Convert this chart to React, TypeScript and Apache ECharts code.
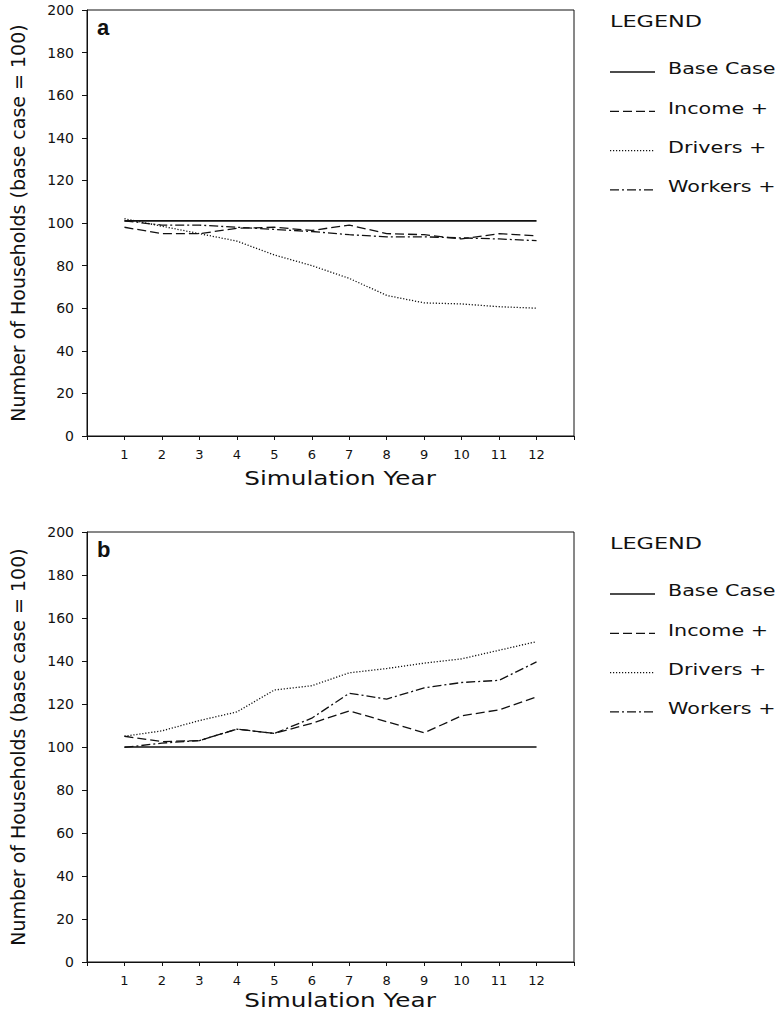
import React, { useEffect, useRef } from "react";
import * as echarts from "echarts";

const years = [1, 2, 3, 4, 5, 6, 7, 8, 9, 10, 11, 12];
const seriesNames = ["Base Case", "Income +", "Drivers +", "Workers +"];

const aBase = [101, 101, 101, 101, 101, 101, 101, 101, 101, 101, 101, 101];
const aIncome = [98, 95, 95, 97.5, 98, 96.5, 99, 95, 94.5, 92.5, 95, 94];
const aDrivers = [102, 98.5, 95, 91.5, 85, 80, 74, 66, 62.5, 62, 60.7, 60];
const aWorkers = [101, 99, 99, 98, 97, 96, 94.5, 93.5, 93.5, 93, 92.5, 91.7];

const bBase = [100, 100, 100, 100, 100, 100, 100, 100, 100, 100, 100, 100];
const bIncome = [105, 102.5, 103, 108.3, 106.3, 111, 116.8, 111.8, 106.6, 114.5, 117.3, 123.3];
const bDrivers = [105, 107.5, 112.3, 116.3, 126.5, 128.5, 134.5, 136.5, 139, 141, 145, 149];
const bWorkers = [99.8, 101.8, 103, 108.3, 106.3, 113.4, 125, 122.3, 127.5, 130, 131, 139.6];

const FONT = "DejaVu Sans";
const dashes: any[] = ["solid", [9, 4], [1.2, 1.8], [9, 3, 2, 3]];

function pairs(vals: number[]) {
  return years.map((y, i) => [y, vals[i]]);
}

export default function App() {
  const ref = useRef<HTMLDivElement>(null);
  useEffect(() => {
    if (!ref.current) return;
    const chart = echarts.init(ref.current, undefined, { renderer: "svg" });
    const grids = [
      { left: 86, top: 10, width: 488, height: 426 },
      { left: 86, top: 532, width: 488, height: 430 },
    ];
    const mkX = (gi: number) => ({
      type: "value",
      gridIndex: gi,
      min: 0,
      max: 13,
      interval: 1,
      axisLine: { show: true, lineStyle: { color: "#111", width: 1 } },
      axisTick: { show: true, length: 4, lineStyle: { color: "#111" } },
      axisLabel: {
        fontFamily: FONT,
        fontSize: 13,
        color: "#111",
        margin: 12,
        formatter: (v: number) => (v >= 1 && v <= 12 ? String(v) : ""),
      },
      splitLine: { show: false },
    });
    const mkY = (gi: number) => ({
      type: "value",
      gridIndex: gi,
      min: 0,
      max: 200,
      interval: 20,
      name: "Number of Households (base case = 100)",
      nameLocation: "middle",
      nameGap: 60,
      nameRotate: 90,
      nameTextStyle: { fontFamily: FONT, fontSize: 19, color: "#111" },
      axisLine: { show: true, lineStyle: { color: "#111", width: 1 } },
      axisTick: { show: true, length: 5, lineStyle: { color: "#111" } },
      axisLabel: { fontFamily: FONT, fontSize: 14, color: "#111", margin: 13 },
      splitLine: { show: false },
    });
    const data = [
      [aBase, aIncome, aDrivers, aWorkers],
      [bBase, bIncome, bDrivers, bWorkers],
    ];
    const series: any[] = [];
    data.forEach((set, gi) => {
      set.forEach((vals, si) => {
        series.push({
          type: "line",
          name: seriesNames[si],
          xAxisIndex: gi,
          yAxisIndex: gi,
          data: pairs(vals),
          showSymbol: false,
          symbol: "none",
          lineStyle: { color: "#111", width: si === 0 ? 1.6 : 1.3, type: dashes[si] },
        });
      });
    });

    const graphic: any[] = [];
    const legendTops = [22, 544];
    const xTitleY = [479, 1001];
    legendTops.forEach((lt, gi) => {
      graphic.push({
        type: "text",
        x: 610,
        y: lt,
        scaleX: 1.4,
        style: { text: "LEGEND", fontFamily: FONT, fontSize: 16, fill: "#111", textVerticalAlign: "middle" },
      });
      graphic.push({
        type: "text",
        x: 340,
        y: xTitleY[gi],
        scaleX: 1.3,
        style: {
          text: "Simulation Year",
          fontFamily: FONT,
          fontSize: 19,
          fill: "#111",
          textAlign: "center",
          textVerticalAlign: "middle",
        },
      });
      graphic.push({
        type: "text",
        x: 97,
        y: grids[gi].top + 17,
        style: {
          text: gi === 0 ? "a" : "b",
          fontFamily: "Liberation Sans",
          fontWeight: "bold",
          fontSize: 22,
          fill: "#111",
          textVerticalAlign: "middle",
        },
      });
      seriesNames.forEach((n, si) => {
        const y = lt + 47 + si * 39.3;
        graphic.push({
          type: "line",
          shape: { x1: 610, y1: y + 3, x2: 655, y2: y + 3 },
          style: { stroke: "#111", lineWidth: si === 0 ? 1.4 : 1.2, lineDash: si === 0 ? null : dashes[si] },
        });
        graphic.push({
          type: "text",
          x: 668,
          y: y,
          scaleX: 1.38,
          style: { text: n, fontFamily: FONT, fontSize: 15, fill: "#111", textVerticalAlign: "middle" },
        });
      });
    });

    chart.setOption({
      animation: false,
      backgroundColor: "#fff",
      grid: grids.map((g) => ({ ...g, show: true, borderColor: "#111", borderWidth: 1, backgroundColor: "transparent" })),
      xAxis: [mkX(0), mkX(1)],
      yAxis: [mkY(0), mkY(1)],
      series,
      graphic,
    });
    return () => chart.dispose();
  }, []);
  return <div ref={ref} style={{ position: "absolute", left: 0, top: 0, width: 778, height: 1012 }} />;
}
